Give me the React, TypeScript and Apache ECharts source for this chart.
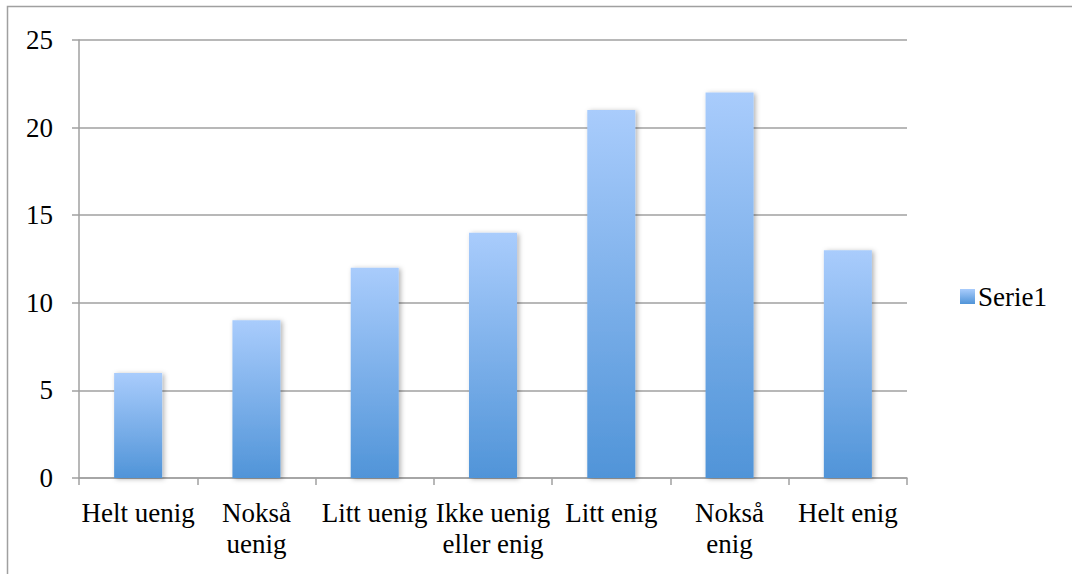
import React, { useEffect, useRef } from "react";
import * as echarts from "echarts";

const categories = [
  "Helt uenig",
  "Nokså\nuenig",
  "Litt uenig",
  "Ikke uenig\neller enig",
  "Litt enig",
  "Nokså\nenig",
  "Helt enig",
];
const serie1 = [6, 9, 12, 14, 21, 22, 13];
const seriesName = "Serie1";
const yTicks = { min: 0, max: 25, interval: 5 };

const FONT = "'Liberation Serif', 'Times New Roman', serif";

export default function App() {
  const ref = useRef<HTMLDivElement>(null);
  useEffect(() => {
    if (!ref.current) return;
    const chart = echarts.init(ref.current, null, { renderer: "svg" });
    const grad = new echarts.graphic.LinearGradient(0, 0, 0, 1, [
      { offset: 0, color: "#a9ccfc" },
      { offset: 1, color: "#5094d8" },
    ]);
    chart.setOption({
      animation: false,
      backgroundColor: "#ffffff",
      textStyle: { fontFamily: FONT, color: "#000" },
      graphic: [
        {
          type: "rect",
          shape: { x: 7.5, y: 6.5, width: 1200, height: 700 },
          style: { fill: "none", stroke: "#a0a0a0", lineWidth: 1.5 },
          silent: true,
        },
      ],
      grid: { left: 79, right: 165, top: 40, bottom: 96, containLabel: false },
      legend: {
        show: true,
        left: 955,
        top: 278,
        orient: "vertical",
        icon: "rect",
        itemWidth: 15,
        itemHeight: 15,
        itemGap: 5,
        textStyle: { fontFamily: FONT, fontSize: 27, color: "#000", padding: [0, 0, 0, -2] },
        data: [seriesName],
      },
      xAxis: {
        type: "category",
        data: categories,
        axisLine: { show: true, lineStyle: { color: "#a0a0a0", width: 1.5 } },
        axisTick: { show: true, length: 7, lineStyle: { color: "#a0a0a0", width: 1.5 } },
        axisLabel: {
          interval: 0,
          margin: 19,
          fontFamily: FONT,
          fontSize: 27,
          lineHeight: 31,
          color: "#000",
          align: "center",
        },
      },
      yAxis: {
        type: "value",
        min: yTicks.min,
        max: yTicks.max,
        interval: yTicks.interval,
        axisLine: { show: true, lineStyle: { color: "#a0a0a0", width: 1.5 } },
        axisTick: { show: true, length: 7, lineStyle: { color: "#a0a0a0", width: 1.5 } },
        splitLine: { show: true, lineStyle: { color: "#a0a0a0", width: 1.5 } },
        axisLabel: {
          margin: 26,
          fontFamily: FONT,
          fontSize: 27,
          color: "#000",
        },
      },
      series: [
        {
          name: seriesName,
          type: "bar",
          data: serie1,
          barWidth: "40.6%",
          itemStyle: {
            color: grad,
            shadowBlur: 5,
            shadowColor: "rgba(0,0,0,0.3)",
            shadowOffsetX: 2,
            shadowOffsetY: 1,
          },
        },
      ],
    });
    return () => chart.dispose();
  }, []);
  return (
    <div
      ref={ref}
      style={{ position: "fixed", left: 0, top: 0, width: 1072, height: 574 }}
    />
  );
}
